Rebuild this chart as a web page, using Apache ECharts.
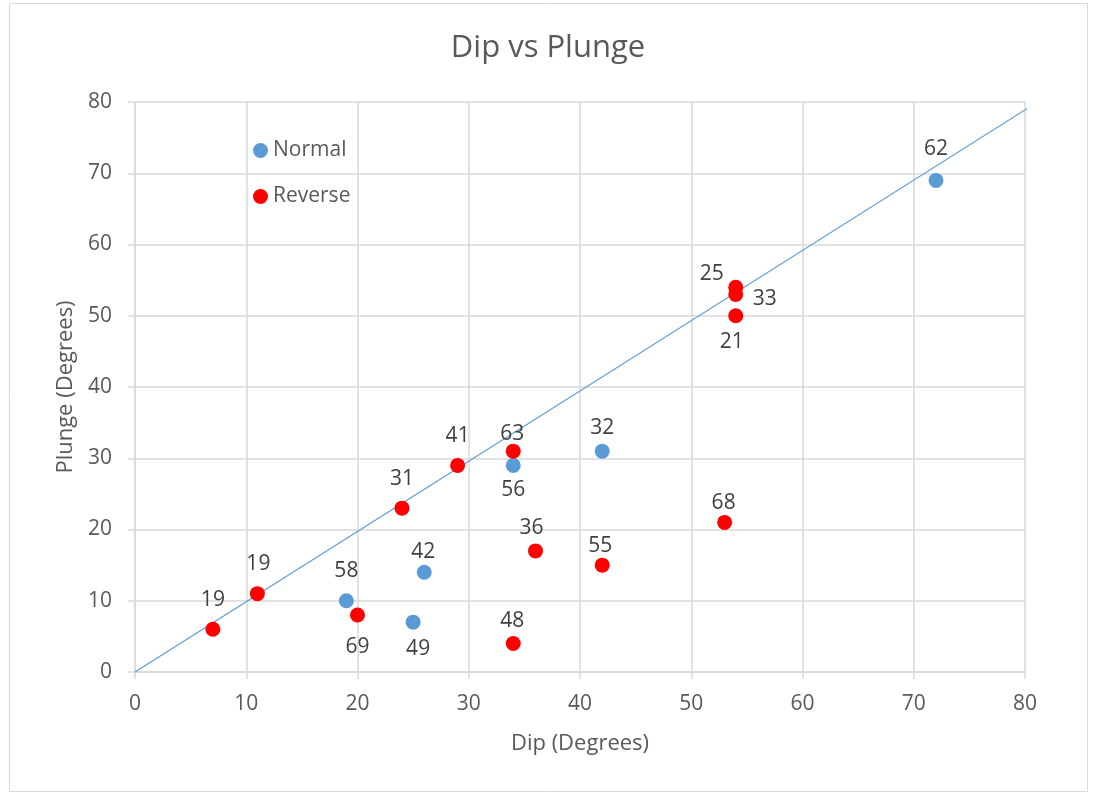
<!DOCTYPE html>
<html>
<head>
<meta charset="utf-8">
<script src="https://cdn.jsdelivr.net/npm/echarts@6/dist/echarts.min.js"></script>
<style>
  html, body { margin: 0; padding: 0; background: #fff; }
  #chart { width: 1096px; height: 793px; }
</style>
</head>
<body>
<div id="chart"></div>
<script>
// Normal faults: dip, plunge and the text shown beside each point
const normalDip    = [72, 42, 34, 26, 19, 25];
const normalPlunge = [69, 31, 29, 14, 10, 7];
const normalLabels = ['62', '32', '56', '42', '58', '49'];

// Reverse faults
const reverseDip    = [7, 11, 20, 24, 29, 34, 36, 34, 42, 53, 54, 54, 54];
const reversePlunge = [6, 11, 8, 23, 29, 31, 17, 4, 15, 21, 54, 53, 50];
const reverseLabels = ['19', '19', '69', '31', '41', '63', '36', '48', '55', '68', '25', '33', '21'];

// Fitted line through the origin
const fitDip    = [0, 80.45];
const fitPlunge = [0, 79.34];

const axisTicks = [0, 10, 20, 30, 40, 50, 60, 70, 80];

// Label placement (pixel shift of each label from its point's centre)
const normalLabelShift = [[0, -31], [0, -23], [0, 25], [-1, -20], [0, -30], [5, 27]];
const reverseLabelShift = [[0, -29], [1, -30], [0, 32], [0, -29], [0, -29], [-1, -17],
                           [-4, -23], [-1, -22], [-2, -19], [-1, -19], [-24, -13], [29, 5], [-4, 26]];

const FONT = '"Open Sans", "Noto Sans", sans-serif';

function buildPoints(xs, ys, labels, shifts) {
  return xs.map((x, i) => ({
    value: [x, ys[i]],
    name: labels[i],
    label: {
      show: true,
      position: 'inside',
      offset: shifts[i],
      align: 'center',
      verticalAlign: 'middle',
      formatter: labels[i],
      color: '#404040',
      fontSize: 21,
      fontFamily: FONT
    }
  }));
}

const chart = echarts.init(document.getElementById('chart'), null, { renderer: 'canvas' });

const axisText = { color: '#595959', fontSize: 21, fontFamily: FONT };
const axisTitleText = { color: '#595959', fontSize: 22, fontFamily: FONT };

const option = {
  backgroundColor: '#ffffff',
  animation: false,
  title: {
    text: 'Dip vs Plunge',
    left: 'center',
    top: 28,
    textStyle: { color: '#595959', fontSize: 31, fontWeight: 'normal', fontFamily: FONT }
  },
  graphic: [{
    type: 'rect',
    shape: { x: 9.5, y: 3.5, width: 1078, height: 788 },
    style: { fill: 'none', stroke: '#d9d9d9', lineWidth: 1 },
    silent: true,
    z: -1
  }],
  legend: {
    left: 248,
    top: 135,
    orient: 'vertical',
    itemGap: 25,
    itemWidth: 15,
    itemHeight: 15,
    icon: 'circle',
    textStyle: { color: '#595959', fontSize: 21, fontFamily: FONT },
    data: ['Normal', 'Reverse']
  },
  grid: { left: 135, right: 71, top: 102, bottom: 121, containLabel: false },
  xAxis: {
    type: 'value',
    min: axisTicks[0],
    max: axisTicks[axisTicks.length - 1],
    interval: 10,
    name: 'Dip (Degrees)',
    nameLocation: 'middle',
    nameGap: 61,
    nameTextStyle: axisTitleText,
    axisLine: { show: true, lineStyle: { color: '#d9d9d9', width: 1.5 } },
    axisTick: { show: true, length: 7, lineStyle: { color: '#d9d9d9', width: 1.5 } },
    axisLabel: Object.assign({ margin: 22 }, axisText),
    splitLine: { show: true, lineStyle: { color: '#d9d9d9', width: 1.5 } }
  },
  yAxis: {
    type: 'value',
    min: axisTicks[0],
    max: axisTicks[axisTicks.length - 1],
    interval: 10,
    name: 'Plunge (Degrees)',
    nameLocation: 'middle',
    nameGap: 58,
    nameTextStyle: axisTitleText,
    axisLine: { show: true, lineStyle: { color: '#d9d9d9', width: 1.5 } },
    axisTick: { show: true, length: 7, lineStyle: { color: '#d9d9d9', width: 1.5 } },
    axisLabel: Object.assign({ margin: 23 }, axisText),
    splitLine: { show: true, lineStyle: { color: '#d9d9d9', width: 1.5 } }
  },
  series: [
    {
      name: 'Fit',
      type: 'line',
      data: fitDip.map((x, i) => [x, fitPlunge[i]]),
      showSymbol: false,
      symbol: 'none',
      clip: false,
      lineStyle: { color: '#5b9bd5', width: 1.2 },
      z: 3,
      silent: true
    },
    {
      name: 'Normal',
      type: 'scatter',
      symbolSize: 15,
      itemStyle: { color: '#5b9bd5', opacity: 1 },
      data: buildPoints(normalDip, normalPlunge, normalLabels, normalLabelShift),
      z: 4
    },
    {
      name: 'Reverse',
      type: 'scatter',
      symbolSize: 15,
      itemStyle: { color: '#ff0000', opacity: 1 },
      data: buildPoints(reverseDip, reversePlunge, reverseLabels, reverseLabelShift),
      z: 5
    }
  ]
};

chart.setOption(option);
</script>
</body>
</html>
